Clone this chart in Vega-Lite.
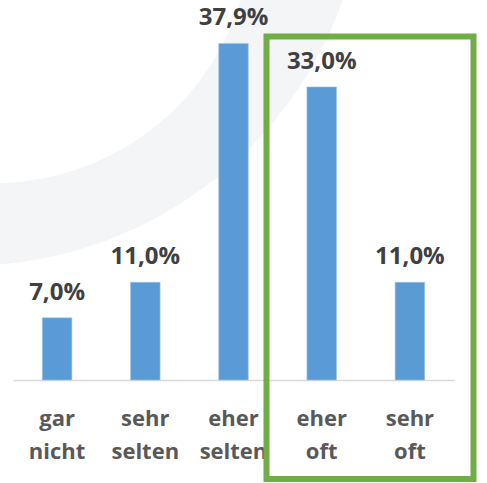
{
  "$schema": "https://vega.github.io/schema/vega-lite/v6.json",
  "width": 441,
  "height": 373,
  "autosize": {"type": "none"},
  "padding": {"left": 13, "top": 7, "right": 33, "bottom": 103},
  "background": "white",
  "config": {
    "view": {"stroke": null},
    "locale": {"number": {"decimal": ",", "thousands": ".", "grouping": [3], "currency": ["", " €"]}},
    "font": "Open Sans"
  },
  "datasets": {
    "antworten": [
      {"kategorie": "gar nicht", "anteil": 0.07},
      {"kategorie": "sehr selten", "anteil": 0.11},
      {"kategorie": "eher selten", "anteil": 0.379},
      {"kategorie": "eher oft", "anteil": 0.33},
      {"kategorie": "sehr oft", "anteil": 0.11}
    ],
    "kreise": [
      {"form": "aussen", "xm": -0.533, "ym": 0.5788},
      {"form": "innen", "xm": -0.2154, "ym": 0.5123}
    ],
    "markierung": [
      {"von": 2.874, "bis": 5.221, "oben": 0.3868, "unten": -0.1115}
    ]
  },
  "layer": [
    {
      "data": {"name": "kreise"},
      "transform": [{"filter": "datum.form == 'aussen'"}],
      "mark": {"type": "point", "shape": "circle", "filled": true, "size": 640000, "opacity": 1, "color": "#F4F5F7"},
      "encoding": {
        "x": {"field": "xm", "type": "quantitative", "scale": {"domain": [0, 5], "nice": false, "zero": false}, "axis": null},
        "y": {"field": "ym", "type": "quantitative", "scale": {"domain": [0, 0.42], "nice": false}, "axis": null}
      }
    },
    {
      "data": {"name": "kreise"},
      "transform": [{"filter": "datum.form == 'innen'"}],
      "mark": {"type": "point", "shape": "circle", "filled": true, "size": 266256, "opacity": 1, "color": "#FFFFFF"},
      "encoding": {
        "x": {"field": "xm", "type": "quantitative", "scale": {"domain": [0, 5], "nice": false, "zero": false}, "axis": null},
        "y": {"field": "ym", "type": "quantitative", "scale": {"domain": [0, 0.42], "nice": false}, "axis": null}
      }
    },
    {
      "data": {"name": "antworten"},
      "encoding": {
        "x": {
          "field": "kategorie", "type": "nominal", "sort": null,
          "scale": {"paddingInner": 0, "paddingOuter": 0},
          "axis": {
            "title": null, "ticks": false, "domainColor": "#D9D9D9", "domainWidth": 1.5,
            "labelAngle": 0, "labelFont": "Open Sans", "labelFontWeight": "bold", "labelFontSize": 22,
            "labelColor": "#595959", "labelPadding": 28, "labelLineHeight": 33,
            "labelExpr": "split(datum.label, ' ')", "grid": false
          }
        },
        "y": {"field": "anteil", "type": "quantitative", "scale": {"domain": [0, 0.42], "nice": false}, "axis": null}
      },
      "layer": [
        {"mark": {"type": "bar", "width": {"band": 0.335}, "color": "#5B9BD5", "stroke": "#9DC3E6", "strokeWidth": 0.6}},
        {
          "mark": {"type": "text", "dy": -18, "baseline": "alphabetic", "font": "Open Sans", "fontWeight": "bold", "fontSize": 24, "color": "#404040"},
          "encoding": {"text": {"field": "anteil", "type": "quantitative", "format": ".1%"}}
        }
      ]
    },
    {
      "data": {"name": "markierung"},
      "mark": {"type": "rect", "fill": null, "fillOpacity": 0, "stroke": "#70AD47", "strokeWidth": 6},
      "encoding": {
        "x": {"field": "von", "type": "quantitative", "scale": {"domain": [0, 5], "nice": false, "zero": false}, "axis": null},
        "x2": {"field": "bis"},
        "y": {"field": "oben", "type": "quantitative", "scale": {"domain": [0, 0.42], "nice": false}, "axis": null},
        "y2": {"field": "unten"}
      }
    }
  ],
  "resolve": {"scale": {"x": "independent"}, "axis": {"x": "independent"}}
}
